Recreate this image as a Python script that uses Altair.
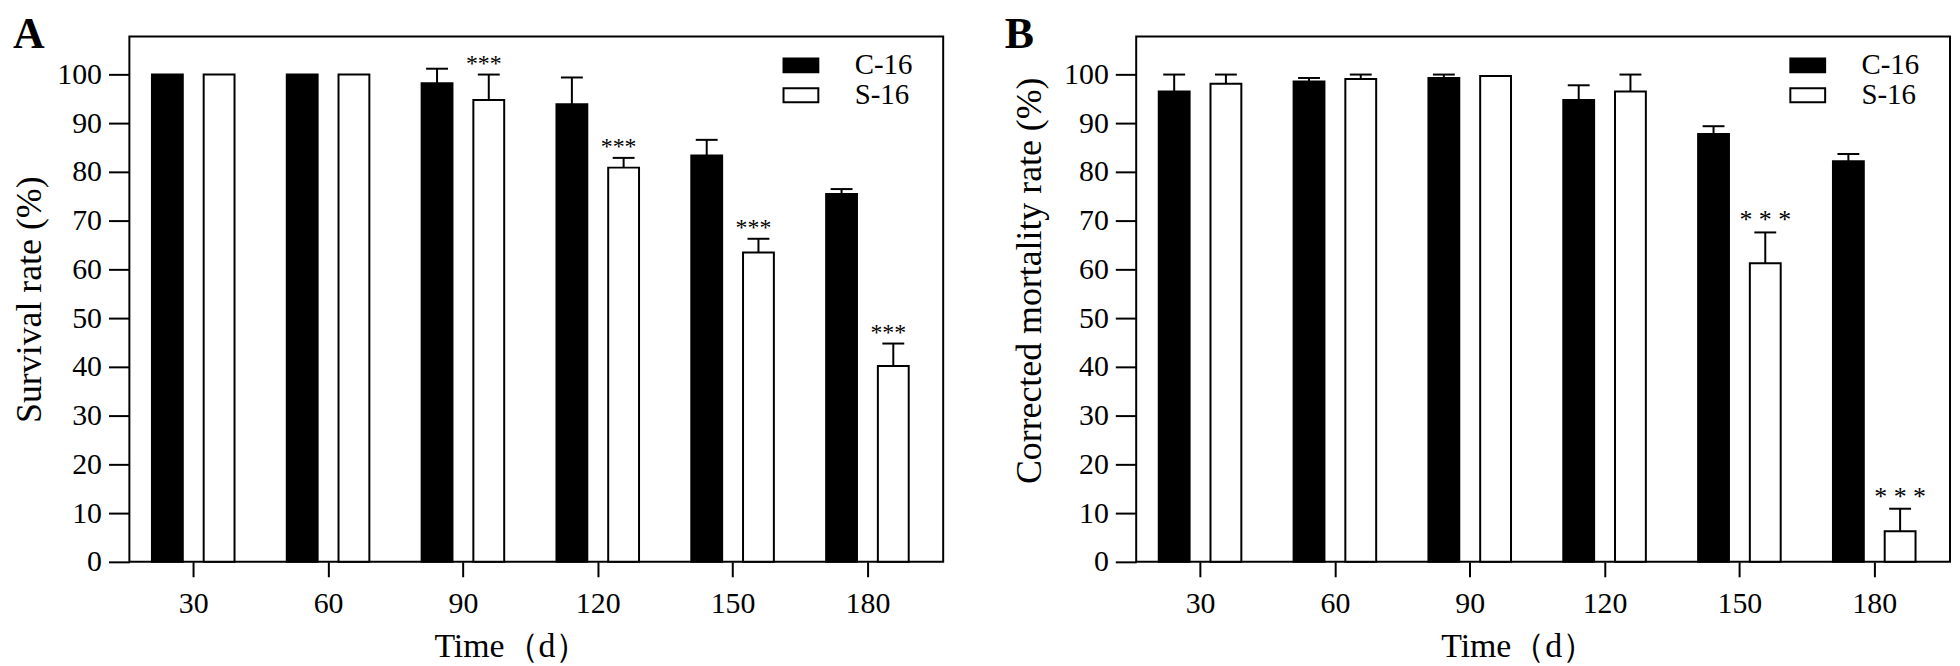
import altair as alt
import pandas as pd

# ---------------- data ----------------
days = [30, 60, 90, 120, 150, 180]
series = ["C-16", "S-16"]

surv_c16 = [100, 100, 98.2, 93.9, 83.4, 75.5]
surv_c16_err = [0, 0, 3.0, 5.5, 3.2, 1.0]
surv_s16 = [100, 100, 94.8, 80.9, 63.5, 40.2]
surv_s16_err = [0, 0, 5.2, 2.0, 2.8, 4.6]
surv_sig = ["", "", "***", "***", "***", "***"]

mort_c16 = [96.5, 98.6, 99.3, 94.8, 87.8, 82.2]
mort_c16_err = [3.5, 0.7, 0.7, 3.0, 1.6, 1.5]
mort_s16 = [98.1, 99.1, 99.7, 96.5, 61.3, 6.3]
mort_s16_err = [1.9, 0.9, 0, 3.5, 6.3, 4.6]
mort_sig = ["", "", "", "", "* * *", "* * *"]

y_ticks = list(range(0, 101, 10))

FONT = "Liberation Serif"


def build_df(c, ce, s, se, sig):
    rows = []
    for i, d in enumerate(days):
        rows.append({"day": d, "series": "C-16", "value": c[i], "err": ce[i],
                     "top": c[i] + ce[i], "sig": ""})
        rows.append({"day": d, "series": "S-16", "value": s[i], "err": se[i],
                     "top": s[i] + se[i], "sig": sig[i]})
    return pd.DataFrame(rows)


def panel(letter, df, ytitle, title_pad, letter_x, star_size, star_dx, title_y=None):
    xaxis = alt.Axis(values=days, format="d", tickSize=15, tickWidth=2, tickColor="black",
                     labelFont=FONT, labelFontSize=30, labelColor="black", labelPadding=12,
                     domain=False, grid=False, title="Time（d）", titleFont=FONT,
                     titleFontSize=34, titleFontWeight="normal", titleColor="black",
                     titlePadding=11, titleX=384)
    ykw = dict(values=y_ticks, tickSize=21, tickWidth=2, tickColor="black",
               labelFont=FONT, labelFontSize=30, labelColor="black", labelPadding=7,
               domain=False, grid=False, title=ytitle, titleFont=FONT, titleFontSize=36,
               titleFontWeight="normal", titleColor="black", titlePadding=title_pad)
    if title_y is not None:
        ykw["titleY"] = title_y
    yaxis = alt.Axis(**ykw)
    xs = alt.Scale(domain=[16.9, 195.75], nice=False, zero=False)
    ys = alt.Scale(domain=[0, 107.8], nice=False, zero=True)

    def X():
        return alt.X("day:Q", scale=xs, axis=xaxis)

    def Y(f):
        return alt.Y(f, scale=ys, axis=yaxis)

    color = alt.Color(
        "series:N",
        scale=alt.Scale(domain=series, range=["black", "white"]),
        legend=alt.Legend(orient="none", legendX=660, legendY=14, title=None,
                          symbolType="M-1.25,-0.5H1.25V0.5H-1.25Z", symbolSize=784,
                          symbolStrokeColor="black", symbolStrokeWidth=2,
                          labelFont=FONT, labelFontSize=29, labelColor="black",
                          labelOffset=39, rowPadding=-3, symbolOpacity=1),
    )

    base = alt.Chart(df)
    layers = []
    for name, off in [("C-16", -26), ("S-16", 26)]:
        sub = base.transform_filter(alt.datum.series == name)
        layers.append(sub.mark_bar(size=31, xOffset=off, stroke="black", strokeWidth=2)
                      .encode(x=X(), y=Y("value:Q"), color=color))
        eb = sub.transform_filter(alt.datum.err > 0)
        layers.append(eb.mark_rule(xOffset=off, strokeWidth=2, color="black")
                      .encode(x=X(), y=Y("value:Q"), y2="top:Q"))
        layers.append(eb.mark_tick(orient="horizontal", size=22, thickness=2,
                                   xOffset=off, color="black", opacity=1)
                      .encode(x=X(), y=Y("top:Q")))
    stars = base.transform_filter("datum.series == 'S-16' && datum.sig != ''")
    layers.append(stars.mark_text(font=FONT, fontSize=star_size, color="black",
                                  xOffset=26 + star_dx, dy=-4, baseline="alphabetic",
                                  align="center")
                  .encode(x=X(), y=Y("top:Q"), text="sig:N"))
    lab = alt.Chart(pd.DataFrame({"label": [letter]})).mark_text(
        font=FONT, fontSize=44, fontWeight="bold", align="left",
        baseline="alphabetic", color="black"
    ).encode(x=alt.value(letter_x), y=alt.value(12), text="label:N")
    layers.append(lab)
    return alt.layer(*layers).properties(width=818, height=528)


dfA = build_df(surv_c16, surv_c16_err, surv_s16, surv_s16_err, surv_sig)
dfB = build_df(mort_c16, mort_c16_err, mort_s16, mort_s16_err, mort_sig)

A = panel("A", dfA, "Survival rate (%)", 8, -117, 24, -5)
B = panel("B", dfB, "Corrected mortality rate (%)", 15, -132, 26, 0, title_y=245)

chart = (
    alt.hconcat(A, B, spacing=194, bounds="flush",
                padding={"left": 3, "top": 3, "right": 1, "bottom": 1},
                background="white")
    .resolve_scale(color="independent")
    .resolve_legend(color="independent")
    .configure_view(stroke="black", strokeWidth=2)
)

chart.save("out.html", embed_options={"renderer": "svg", "actions": False})
